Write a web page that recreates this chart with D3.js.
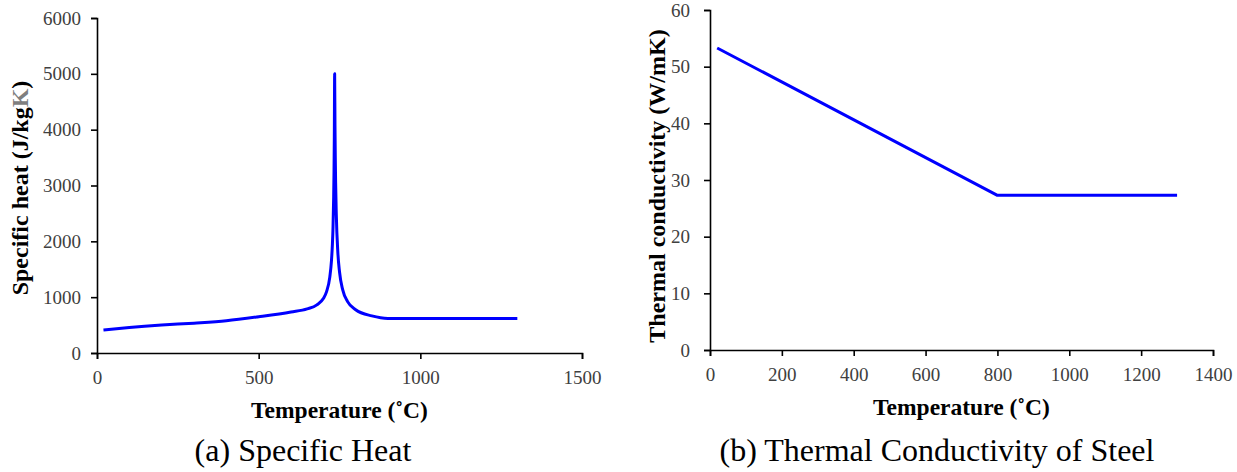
<!DOCTYPE html>
<html>
<head>
<meta charset="utf-8">
<script src="https://cdn.jsdelivr.net/npm/d3@7"></script>
<style>
  body { margin: 0; background: #fff; }
  svg { display: block; }
  .tick text { font-family: "Liberation Serif", "Times New Roman", serif; font-size: 19px; fill: #404040; }
  .axis path, .axis line { stroke: #000; stroke-width: 1.6; }
  .title { font-family: "Liberation Serif", "Times New Roman", serif; font-weight: bold; font-size: 23.5px; fill: #000; }
  .ytitle { font-size: 24px; }
  .caption { font-family: "Liberation Serif", "Times New Roman", serif; font-size: 32px; fill: #000; }
</style>
</head>
<body>
<div id="chart"></div>
<script>
// (a) specific heat
const tempA = [20, 100, 200, 300, 400, 500, 600, 650, 680, 700, 710, 720, 725, 728, 730, 732, 733, 734, 735, 736, 737, 738, 740, 745, 750, 760, 775, 800, 850, 900, 1300]
const heatA = [410, 455, 500, 535, 578, 650, 735, 790, 862, 975, 1100, 1360, 1640, 1940, 2260, 2800, 3230, 3880, 5000, 4080, 3490, 3060, 2500, 1790, 1455, 1130, 920, 775, 665, 620, 620]

// (b) thermal conductivity
const tempB = [20, 800, 1300]
const condB = [53.3, 27.3, 27.3]

const ticksXA = [0, 500, 1000, 1500]
const ticksYA = [0, 1000, 2000, 3000, 4000, 5000, 6000]
const ticksXB = [0, 200, 400, 600, 800, 1000, 1200, 1400]
const ticksYB = [0, 10, 20, 30, 40, 50, 60]

const W = 1237, H = 472

const svg = d3.select("#chart").append("svg")
    .attr("width", W)
    .attr("height", H)

// one panel = axes + blue line + titles
const drawPanel = (opt) => {
    const x = d3.scaleLinear().domain(opt.xDomain).range(opt.xRange)
    const y = d3.scaleLinear().domain(opt.yDomain).range(opt.yRange)
    const g = svg.append("g")

    g.append("g")
        .attr("class", "axis")
        .attr("transform", "translate(0," + opt.yRange[0] + ")")
        .call(d3.axisBottom(x).tickValues(opt.xTicks).tickFormat(d3.format("d"))
            .tickSize(6).tickSizeOuter(6).tickPadding(opt.xPad))

    g.append("g")
        .attr("class", "axis")
        .attr("transform", "translate(" + opt.xRange[0] + ",0)")
        .call(d3.axisLeft(y).tickValues(opt.yTicks).tickFormat(d3.format("d"))
            .tickSize(6).tickSizeOuter(6).tickPadding(opt.yPad))

    const pts = opt.xs.map((d, i) => [d, opt.ys[i]])
    const line = d3.line()
        .x(d => x(d[0]))
        .y(d => y(d[1]))
        .curve(opt.curve)

    g.append("path")
        .datum(pts)
        .attr("fill", "none")
        .attr("stroke", "#0000ff")
        .attr("stroke-width", 3)
        .attr("stroke-linejoin", "round")
        .attr("d", line)

    // x title
    g.append("text")
        .attr("class", "title")
        .attr("text-anchor", "middle")
        .attr("x", (opt.xRange[0] + opt.xRange[1]) / 2)
        .attr("y", opt.xTitleY)
        .text("Temperature (˚C)")

    // y title
    const yt = g.append("text")
        .attr("class", "title ytitle")
        .attr("text-anchor", "middle")
        .attr("transform", "translate(" + opt.yTitle[0] + "," + opt.yTitle[1] + ")rotate(-90)")
    opt.yLabel.forEach(p => {
        yt.append("tspan").attr("fill", p[1]).text(p[0])
    })

    g.append("text")
        .attr("class", "caption")
        .attr("text-anchor", "middle")
        .attr("x", opt.caption[0])
        .attr("y", opt.caption[1])
        .text(opt.captionText)
}

drawPanel({
    xs: tempA, ys: heatA,
    xDomain: [0, 1500], xRange: [97, 582],
    yDomain: [0, 6000], yRange: [353, 18],
    xTicks: ticksXA, yTicks: ticksYA,
    xPad: 12, yPad: 10,
    curve: d3.curveMonotoneX,
    xTitleY: 418,
    yTitle: [28, 188],
    yLabel: [["Specific heat (J/kg", "#000"], ["K", "#7f7f7f"], [")", "#000"]],
    caption: [303, 461],
    captionText: "(a) Specific Heat"
})

drawPanel({
    xs: tempB, ys: condB,
    xDomain: [0, 1400], xRange: [710, 1213],
    yDomain: [0, 60], yRange: [350, 10],
    xTicks: ticksXB, yTicks: ticksYB,
    xPad: 12, yPad: 14,
    curve: d3.curveLinear,
    xTitleY: 415,
    yTitle: [665, 186],
    yLabel: [["Thermal conductivity (W/mK)", "#000"]],
    caption: [937, 461],
    captionText: "(b) Thermal Conductivity of Steel"
})
</script>
</body>
</html>
